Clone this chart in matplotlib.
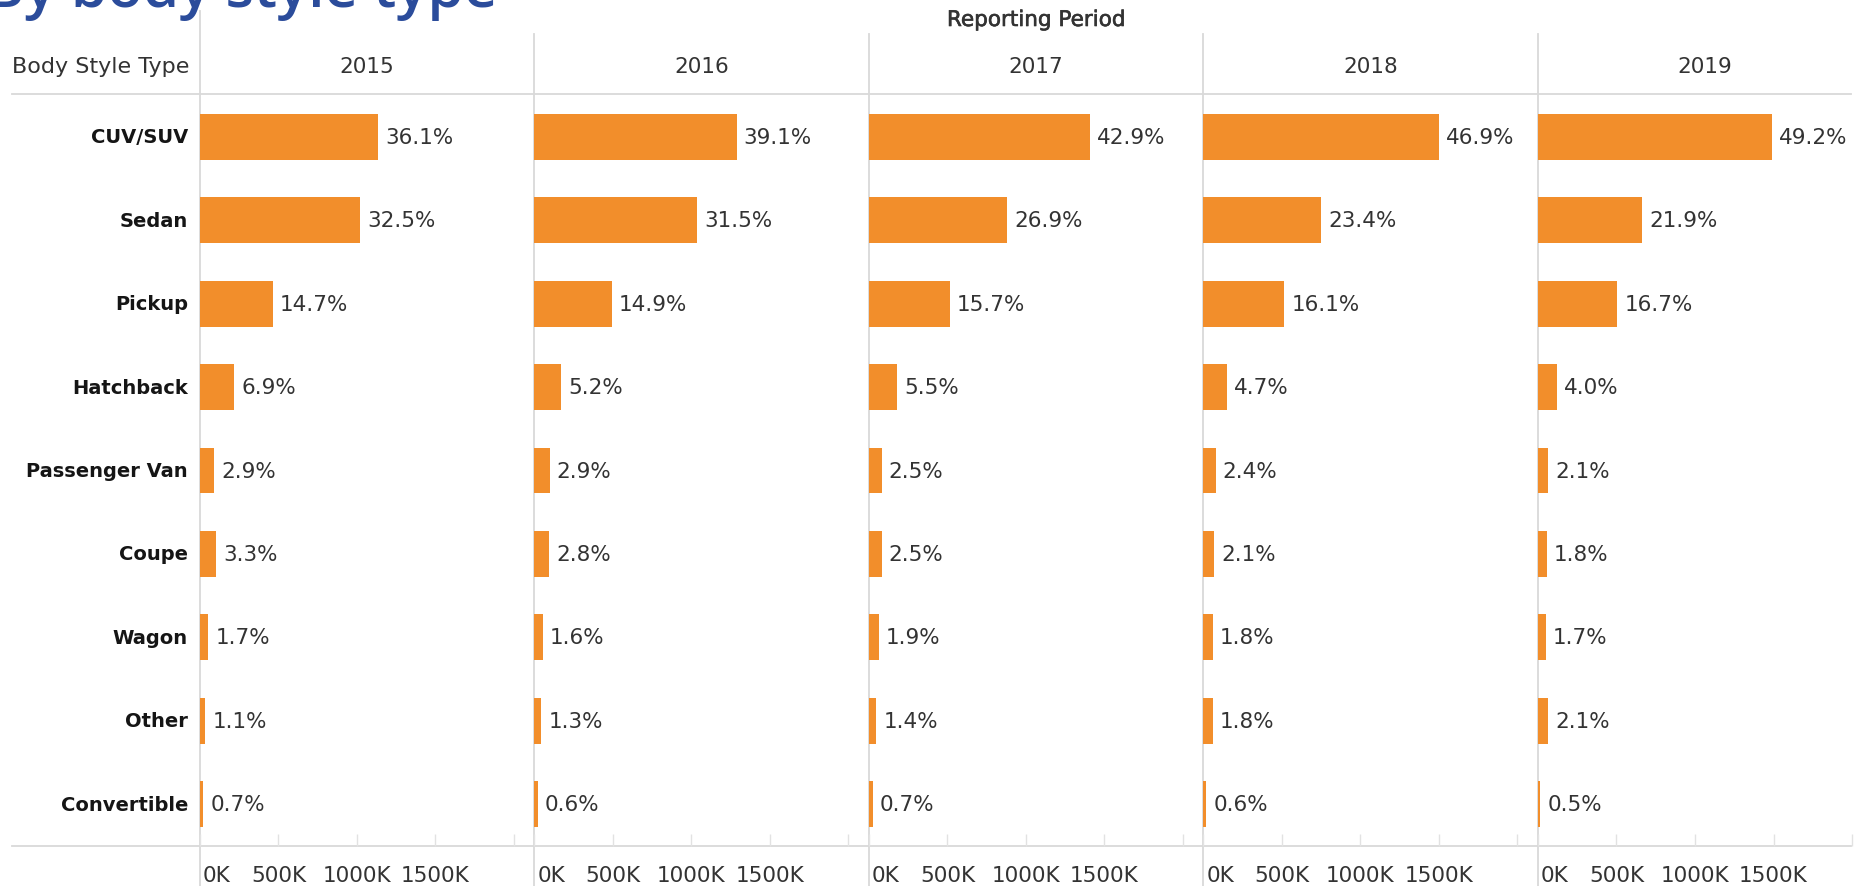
import matplotlib
matplotlib.use("Agg")
import matplotlib.pyplot as plt
from matplotlib.lines import Line2D
import matplotlib.patheffects as pe

# ---------------- data ----------------
categories = ["CUV/SUV", "Sedan", "Pickup", "Hatchback", "Passenger Van",
              "Coupe", "Wagon", "Other", "Convertible"]
years = ["2015", "2016", "2017", "2018", "2019"]

# sales in thousands (bar lengths)
sales_2015 = [1135, 1022, 462, 217, 91, 104, 53, 35, 22]
sales_2016 = [1288, 1038, 491, 171, 96, 92, 53, 43, 20]
sales_2017 = [1407, 882, 515, 180, 82, 82, 62, 46, 23]
sales_2018 = [1501, 749, 515, 150, 77, 67, 58, 58, 19]
sales_2019 = [1491, 664, 506, 121, 64, 55, 52, 64, 15]

pct_2015 = ["36.1%", "32.5%", "14.7%", "6.9%", "2.9%", "3.3%", "1.7%", "1.1%", "0.7%"]
pct_2016 = ["39.1%", "31.5%", "14.9%", "5.2%", "2.9%", "2.8%", "1.6%", "1.3%", "0.6%"]
pct_2017 = ["42.9%", "26.9%", "15.7%", "5.5%", "2.5%", "2.5%", "1.9%", "1.4%", "0.7%"]
pct_2018 = ["46.9%", "23.4%", "16.1%", "4.7%", "2.4%", "2.1%", "1.8%", "1.8%", "0.6%"]
pct_2019 = ["49.2%", "21.9%", "16.7%", "4.0%", "2.1%", "1.8%", "1.7%", "2.1%", "0.5%"]

tick_values = [0, 500, 1000, 1500, 2000]
tick_labels = ["0K", "500K", "1000K", "1500K", ""]

title_text = "By body style type"
header_rows = "Body Style Type"
header_cols = "Reporting Period"

sales = [sales_2015, sales_2016, sales_2017, sales_2018, sales_2019]
pcts = [pct_2015, pct_2016, pct_2017, pct_2018, pct_2019]

# ---------------- layout ----------------
W, H = 1865, 887
fig = plt.figure(figsize=(W / 100, H / 100), dpi=100)
fig.patch.set_facecolor("white")

plt.rcParams["font.family"] = ["DejaVu Sans"]

ORANGE = "#F28E2B"
GRID = "#d9d9d9"
TXT = "#333333"
FS = 15.5

def fx(px):
    return px / W

def fy(py):
    return 1 - py / H

panel_w = 334.5
px_per_k = 78.5 / 500.0
xmax = panel_w / px_per_k
top_px, bot_px = 96, 847
first_left = 200

axes = []
for i, yr in enumerate(years):
    left = first_left + i * panel_w
    ax = fig.add_axes([fx(left), fy(bot_px), fx(panel_w), (bot_px - top_px) / H])
    ax.set_xlim(0, xmax)
    ax.set_ylim(len(categories) - 0.5, -0.5)
    ax.barh(range(len(categories)), sales[i], height=0.55, color=ORANGE, zorder=3)
    for s in ax.spines.values():
        s.set_visible(False)
    ax.set_yticks([])
    ax.set_xticks(tick_values)
    ax.tick_params(axis="x", direction="in", length=9, width=1,
                   color="#e2e2e2", labelbottom=False)
    ax.patch.set_alpha(0)
    # value labels
    for j, (v, lab) in enumerate(zip(sales[i], pcts[i])):
        ax.annotate(lab, xy=(v, j), xytext=(7, 0), textcoords="offset pixels",
                    ha="left", va="center", fontsize=FS, color=TXT)
    # tick labels
    for v, lab in zip(tick_values, tick_labels):
        if not lab:
            continue
        ax.annotate(lab, xy=(v, 0), xycoords=("data", "axes fraction"),
                    xytext=(3 if v == 0 else 0, -29), textcoords="offset pixels",
                    ha="left" if v == 0 else "center", va="center",
                    fontsize=FS, color=TXT)
    # column header
    fig.text(fx(left + panel_w / 2), fy(67), yr, ha="center", va="center",
             fontsize=FS, color=TXT)
    axes.append(ax)

# category labels
for j, c in enumerate(categories):
    axes[0].annotate(c, xy=(0, j), xytext=(-12, 0), textcoords="offset pixels",
                     ha="right", va="center", fontsize=14, fontweight="bold",
                     color="#151515")

# headers
fig.text(fx(12), fy(67), header_rows, ha="left", va="center", fontsize=16, color=TXT)
fig.text(fx(first_left + 5 * panel_w / 2), fy(21), header_cols, ha="center",
         va="center", fontsize=FS, color=TXT,
         path_effects=[pe.withStroke(linewidth=0.45, foreground=TXT)])

# title (partially cut off at the top, as in the source image)
fig.text(fx(-14), fy(7), title_text, ha="left", va="baseline", fontsize=42,
         fontweight="semibold", color="#2b4c9b", family=["Open Sans", "DejaVu Sans"])

# grid lines
fig.add_artist(Line2D([fx(12), fx(1851)], [fy(95), fy(95)], color=GRID, lw=1.3, zorder=0))
fig.add_artist(Line2D([fx(12), fx(1851)], [fy(847), fy(847)], color=GRID, lw=1.3, zorder=0))
for i in range(len(years)):
    left = first_left + i * panel_w
    ytop = 12 if i == 0 else 35
    fig.add_artist(Line2D([fx(left), fx(left)], [fy(ytop), fy(887)], color=GRID,
                          lw=1.3, zorder=0))

fig.savefig("out.png", dpi=100, facecolor="white")
